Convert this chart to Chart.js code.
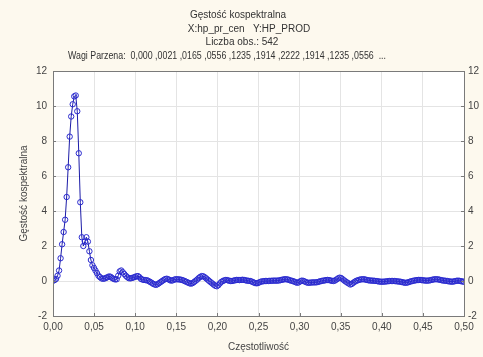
<!DOCTYPE html>
<html lang="pl">
<head>
    <meta charset="UTF-8">
    <title>Gęstość kospektralna</title>
    <script src="https://cdn.jsdelivr.net/npm/chart.js"></script>
    <style>
        html, body { margin: 0; padding: 0; background: #fdf9ee; }
        #wrap { width: 483px; height: 357px; }
    </style>
</head>
<body>
    <div id="wrap">
        <canvas id="cospecChart" width="483" height="357"></canvas>
    </div>

    <script>
        // Co-spectral density estimate, one value per Fourier frequency k / nObs (k = 0..271)
        const nObs = 542;
        const densityValues = [
            0.02, 0.05, 0.12, 0.3, 0.6, 1.3, 2.1, 2.8, 3.5, 4.8,
            6.5, 8.25, 9.4, 10.1, 10.55, 10.6, 9.7, 7.3, 4.5, 2.5,
            2.0, 2.25, 2.5, 2.25, 1.7, 1.2, 0.9, 0.75, 0.6, 0.45,
            0.3, 0.22, 0.15, 0.13, 0.14, 0.18, 0.22, 0.26, 0.24, 0.17,
            0.12, 0.09, 0.1, 0.3, 0.55, 0.6, 0.5, 0.4, 0.3, 0.22,
            0.16, 0.15, 0.17, 0.2, 0.23, 0.27, 0.28, 0.22, 0.12, 0.08,
            0.06, 0.05, 0.04, 0.0, -0.05, -0.1, -0.16, -0.2, -0.22, -0.18,
            -0.12, -0.06, 0.0, 0.06, 0.11, 0.13, 0.1, 0.05, 0.02, 0.04,
            0.08, 0.1, 0.1, 0.09, 0.08, 0.06, 0.03, -0.01, -0.05, -0.09,
            -0.13, -0.15, -0.12, -0.06, 0.01, 0.08, 0.16, 0.23, 0.28, 0.27,
            0.22, 0.15, 0.08, 0.0, -0.07, -0.14, -0.21, -0.27, -0.3, -0.24,
            -0.14, -0.05, 0.0, 0.04, 0.06, 0.05, 0.02, 0.0, 0.0, 0.02,
            0.04, 0.06, 0.06, 0.05, 0.06, 0.07, 0.06, 0.04, 0.02, 0.01,
            0.0, -0.03, -0.07, -0.11, -0.13, -0.12, -0.08, -0.04, -0.02, -0.01,
            0.0, 0.0, 0.0, 0.01, 0.01, 0.02, 0.02, 0.02, 0.02, 0.03,
            0.05, 0.07, 0.09, 0.1, 0.1, 0.08, 0.05, 0.02, 0.0, -0.03,
            -0.07, -0.1, -0.08, -0.02, 0.02, 0.01, -0.03, -0.07, -0.1, -0.1,
            -0.09, -0.08, -0.08, -0.08, -0.07, -0.05, -0.02, 0.0, 0.02, 0.03,
            0.05, 0.06, 0.05, 0.03, 0.01, 0.0, 0.03, 0.09, 0.15, 0.19,
            0.17, 0.1, 0.03, -0.03, -0.09, -0.14, -0.2, -0.17, -0.1, -0.04,
            0.01, 0.04, 0.07, 0.09, 0.1, 0.1, 0.08, 0.06, 0.04, 0.03,
            0.02, 0.02, 0.01, 0.0, -0.01, -0.03, -0.04, -0.04, -0.04, -0.03,
            -0.02, -0.01, 0.0, 0.0, 0.0, 0.0, -0.01, -0.02, -0.03, -0.04,
            -0.06, -0.08, -0.1, -0.1, -0.08, -0.05, -0.02, 0.0, 0.02, 0.04,
            0.05, 0.06, 0.06, 0.05, 0.04, 0.03, 0.02, 0.02, 0.03, 0.05,
            0.07, 0.09, 0.1, 0.1, 0.09, 0.07, 0.05, 0.03, 0.02, 0.01,
            0.0, -0.02, -0.03, -0.04, -0.03, -0.01, 0.01, 0.02, 0.01, -0.01,
            -0.03, -0.04
        ];

        // Axis ranges and steps
        const xTicks = { min: 0, max: 0.5, step: 0.05 };
        const yTicks = { min: -2, max: 12, step: 2 };

        const titleLines = [
            'Gęstość kospektralna',
            'X:hp_pr_cen   Y:HP_PROD',
            'Liczba obs.: 542',
            'Wagi Parzena:  0,000 ,0021 ,0165 ,0556 ,1235 ,1914 ,2222 ,1914 ,1235 ,0556  ...'
        ];

        const points = densityValues.map((v, k) => ({ x: k / nObs, y: v }));

        const fontFamily = '"Liberation Sans", Arial, sans-serif';
        const textColor = '#444';
        const frameColor = '#7a7a7a';
        const font10 = { family: fontFamily, size: 10 };

        // cream page, white plot area, header text, frame and short inward tick marks
        const plotFrame = {
            id: 'plotFrame',
            beforeDraw(chart) {
                const { ctx, chartArea: a } = chart;
                ctx.save();
                ctx.fillStyle = '#fdf9ee';
                ctx.fillRect(0, 0, chart.width, chart.height);
                ctx.fillStyle = '#ffffff';
                ctx.fillRect(a.left, a.top, a.right - a.left, a.bottom - a.top);
                ctx.restore();
            },
            afterDraw(chart) {
                const { ctx, chartArea: a, scales } = chart;
                ctx.save();

                // header, the long weights line is squeezed a little
                ctx.fillStyle = '#333';
                ctx.font = '10px ' + fontFamily;
                ctx.textAlign = 'center';
                ctx.textBaseline = 'middle';
                ctx.fillText(titleLines[0], 238, 15);
                ctx.fillText(titleLines[1], 249, 29);
                ctx.fillText(titleLines[2], 242, 42.5);
                ctx.fillText(titleLines[3], 227, 56, 318);

                ctx.strokeStyle = frameColor;
                ctx.lineWidth = 1;
                ctx.strokeRect(Math.round(a.left) + 0.5, Math.round(a.top) + 0.5,
                    Math.round(a.right - a.left), Math.round(a.bottom - a.top));
                ctx.beginPath();
                scales.x.ticks.forEach(t => {
                    const px = Math.round(scales.x.getPixelForValue(t.value)) + 0.5;
                    ctx.moveTo(px, a.bottom);
                    ctx.lineTo(px, a.bottom - 3);
                });
                scales.y.ticks.forEach(t => {
                    const py = Math.round(scales.y.getPixelForValue(t.value)) + 0.5;
                    ctx.moveTo(a.left, py);
                    ctx.lineTo(a.left + 3, py);
                    ctx.moveTo(a.right, py);
                    ctx.lineTo(a.right - 3, py);
                });
                ctx.stroke();
                ctx.restore();
            }
        };

        const ctx = document.getElementById('cospecChart').getContext('2d');

        const config = {
            type: 'line',
            data: {
                datasets: [{
                    label: 'Gęstość kospektralna',
                    data: points,
                    borderColor: '#1c1ca8',
                    borderWidth: 1,
                    pointRadius: 2.7,
                    pointBorderWidth: 1,
                    pointBorderColor: '#2b2bd0',
                    pointBackgroundColor: 'rgba(0,0,0,0)',
                    fill: false,
                    tension: 0
                }]
            },
            options: {
                responsive: false,
                animation: false,
                layout: { padding: { top: 71, right: 0, bottom: 0, left: 0 } },
                scales: {
                    x: {
                        type: 'linear',
                        min: xTicks.min,
                        max: xTicks.max,
                        grid: { color: '#e4e4e4', drawTicks: false },
                        border: { display: false },
                        ticks: {
                            stepSize: xTicks.step,
                            padding: 5,
                            color: textColor,
                            font: font10,
                            maxRotation: 0,
                            callback: v => v.toFixed(2).replace('.', ',')
                        },
                        title: {
                            display: true,
                            text: 'Częstotliwość',
                            color: textColor,
                            font: font10,
                            padding: { top: 0, bottom: 4 }
                        },
                        afterFit: s => { s.height = 41; }
                    },
                    y: {
                        position: 'left',
                        min: yTicks.min,
                        max: yTicks.max,
                        grid: { color: '#e4e4e4', drawTicks: false },
                        border: { display: false },
                        ticks: {
                            stepSize: yTicks.step,
                            padding: 6,
                            color: textColor,
                            font: font10
                        },
                        title: {
                            display: true,
                            text: 'Gęstość kospektralna',
                            color: textColor,
                            font: font10,
                            padding: { top: 18, bottom: 0 }
                        },
                        afterFit: s => { s.width = 53; }
                    },
                    y2: {
                        position: 'right',
                        min: yTicks.min,
                        max: yTicks.max,
                        grid: { display: false, drawTicks: false },
                        border: { display: false },
                        ticks: {
                            stepSize: yTicks.step,
                            padding: 4,
                            color: textColor,
                            font: font10
                        },
                        afterFit: s => { s.width = 19; }
                    }
                },
                plugins: {
                    legend: { display: false },
                    tooltip: { enabled: false },
                    title: { display: false }
                }
            },
            plugins: [plotFrame]
        };

        const cospecChart = new Chart(ctx, config);
    </script>
</body>
</html>
